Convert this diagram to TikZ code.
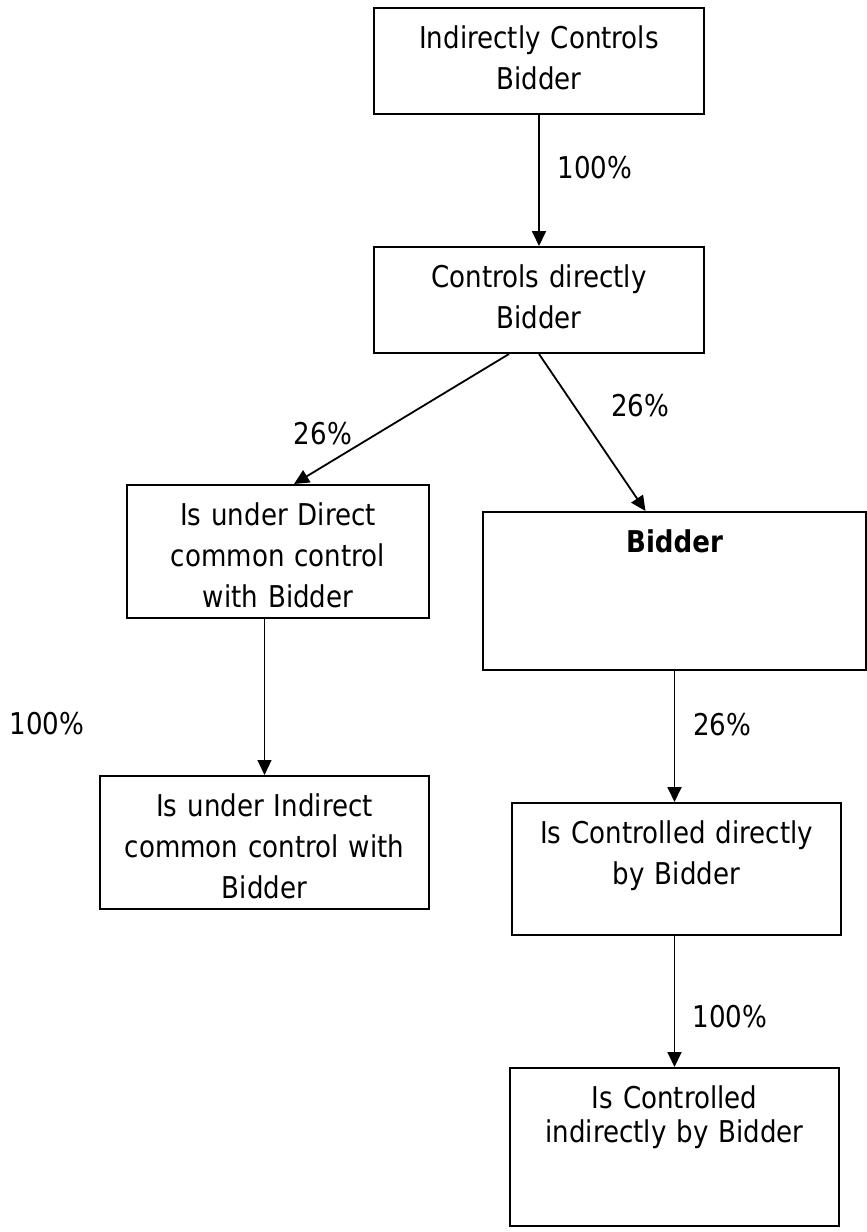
\documentclass[tikz,border=0pt]{standalone}
\usepackage{fontspec}
\setmainfont{DejaVu Sans}[FakeStretch=0.87]
\usetikzlibrary{arrows.meta, positioning, calc}

\begin{document}
\begin{tikzpicture}[x=1pt, y=-1pt,
  ctlbox/.style={draw, line width=2pt, inner sep=0pt, align=center, anchor=north west,
    text height=40pt, font=\fontsize{30}{41}\selectfont},
  arr/.style={-{Triangle[length=15pt, width=14pt]}, line width=1.8pt},
  pct/.style={font=\fontsize{30}{41}\selectfont, inner sep=0pt}]
  \useasboundingbox (0,0) rectangle (867,1232);

  % boxes
  \node[ctlbox, text width=330pt, text depth=66pt] (indctrl) at (373,7) {Indirectly Controls\\Bidder};
  \node[ctlbox, text width=330pt, text depth=66pt] (dirctrl) at (373,246) {Controls directly\\Bidder};
  \node[ctlbox, text width=302pt, text depth=93pt] (dircommon) at (126,484) {Is under Direct\\common control\\with Bidder};
  \node[ctlbox, text width=383pt, text depth=118pt] (bidder) at (482,511) {\textbf{Bidder}};
  \node[ctlbox, text width=329pt, text depth=93pt] (indcommon) at (99,775) {Is under Indirect\\common control with\\Bidder};
  \node[ctlbox, text width=329pt, text depth=92pt] (dirctrlby) at (511,802) {Is Controlled directly\\by Bidder};
  \node[ctlbox, text width=329pt, text depth=118pt] (indctrlby) at (509,1067) {Is Controlled\\[-7pt]indirectly by Bidder};

  % connectors
  \draw[arr] (indctrl) -- (dirctrl);
  \draw[arr] ([xshift=-30pt]dirctrl.south) -- ([xshift=16pt]dircommon.north);
  \draw[arr] (dirctrl.south) -- ([xshift=-29pt]bidder.north);
  \draw[arr, line width=1.1pt] (dircommon.south -| indcommon.north) -- (indcommon.north);
  \draw[arr] (bidder.south) -- (bidder.south |- dirctrlby.north);
  \draw[arr] (dirctrlby.south -| indctrlby.north) -- (indctrlby.north);

  % percentages
  \node[pct] (p1) at (595,168) {100\%};
  \node[pct] (p2) at (323,434) {26\%};
  \node[pct] (p3) at (640,406) {26\%};
  \node[pct] (p4) at (47,724) {100\%};
  \node[pct] (p5) at (722,725) {26\%};
  \node[pct] (p6) at (730,1017) {100\%};
\end{tikzpicture}
\end{document}
